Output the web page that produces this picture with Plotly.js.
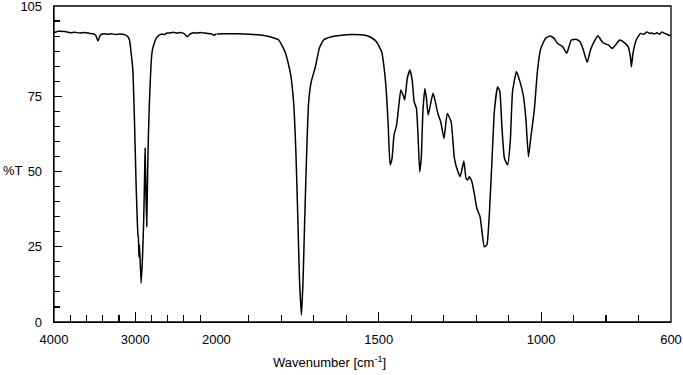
<!DOCTYPE html>
<html>
<head>
<meta charset="utf-8">
<script src="https://cdn.plot.ly/plotly-3.0.1.min.js"></script>
<style>html,body{margin:0;padding:0;background:#fff;}#chart{width:683px;height:375px;}</style>
</head>
<body>
<div id="chart"></div>
<script>
// Wavenumber (cm-1) and transmittance (%T)
const wavenumber = [
  4000,3940,3865,3800,3743,3680,3621,3560,3523,3486,3458,3431,3388,3340,3290,3240,3192,3150,3119,3088,3070,3029,3009,2988,2966,
  2960,2954,2947,2927,2911,2895,2884,2878,2868,2858,2846,2837,2825,2804,2788,2764,2739,2703,
  2670,2641,2610,2580,2530,2482,2440,2397,2356,2323,2280,2237,2195,2152,2110,2066,2029,2000,
  1976,1946,1915,1884,1854,1832,1808,1787,1772,1762,1755,1749,1744,1738,1733,1728,1722,1716,
  1708,1695,1683,1670,1646,1615,1584,1542,1526,1507,1491,1481,1476,1471,1465,1459,1453,1445,
  1438,1432,1425,1420,1412,1404,1397,1391,1384,1379,1374,1369,1364,1358,1353,1348,1343,1333,
  1328,1318,1309,1299,1289,1277,1267,1256,1249,1243,1238,1231,1226,1221,1213,1205,1198,1188,
  1182,1175,1167,1159,1151,1144,1134,1127,1121,1113,1103,1095,1088,1076,1065,1055,1047,1039,
  1032,1021,1011,1001,986,972,960,950,934,921,914,907,891,880,870,858,848,837,825,812,802,792,
  781,771,758,741,732,725,722,717,707,694,684,674,666,659,651,643,635,628,620,613,607,601
];
const transmittance = [
  96.2,96.6,96.5,96.1,96.3,96.0,96.2,95.9,95.8,95.3,93.4,95.3,95.8,95.6,95.8,95.5,95.7,95.6,95.3,94.7,93.7,83.7,67.1,45.0,28.9,
  27.9,21.6,25.6,12.9,20.6,33.9,48.8,57.7,43.9,31.7,50.5,62.1,72.8,86.0,90.4,92.7,94.4,95.3,
  95.7,95.5,96.0,96.0,96.3,96.0,96.2,95.8,94.8,95.7,96.1,96.0,96.2,96.0,95.9,95.8,95.3,95.7,
  95.8,95.8,95.7,95.5,95.2,94.7,93.7,89.4,82.7,72.8,56.1,33.9,14.0,2.3,14.0,33.9,56.1,72.8,
  79.8,84.8,91.0,93.7,94.8,95.3,95.5,95.3,94.7,93.1,89.8,82.1,75.4,65.7,52.2,54.4,62.1,65.4,
  72.1,77.1,75.4,73.8,81.0,83.7,80.4,73.2,71.0,62.1,49.9,54.5,69.9,77.6,74.3,68.8,71.0,76.0,
  74.3,69.3,66.5,61.0,69.3,66.5,54.4,49.9,48.3,51.1,53.5,47.7,47.2,48.3,46.6,42.2,37.8,35.0,
  30.0,25.0,25.6,36.6,54.4,69.9,78.2,76.5,65.4,54.4,52.2,59.9,76.5,83.2,79.8,75.4,67.7,54.9,
  61.0,70.4,83.7,90.9,94.3,95.0,94.3,92.6,91.5,89.3,91.5,93.7,93.9,93.1,90.4,86.3,90.4,93.1,95.1,93.1,92.4,92.0,
  90.9,92.0,93.7,92.6,91.5,88.1,84.8,89.3,93.7,95.9,95.6,96.4,95.9,96.0,95.7,96.1,95.6,96.4,95.9,95.7,95.2,95.3
];
const xTickHigh = [4000, 3000];
const xTickLow = [2000, 1500, 1000, 600];
const yTicks = [0, 25, 50, 75, 105];

// split spectrum at 2000 cm-1 (the axis scale changes there)
const hiX = [], hiY = [], loX = [], loY = [];
wavenumber.forEach((w, i) => {
  if (w >= 2000) { hiX.push(w); hiY.push(transmittance[i]); }
  if (w <= 2000) { loX.push(w); loY.push(transmittance[i]); }
});

const lineStyle = {color: '#000', width: 1.5, shape: 'spline', smoothing: 0.4};
const traces = [
  {x: hiX, y: hiY, xaxis: 'x', yaxis: 'y', mode: 'lines', line: lineStyle, hoverinfo: 'skip'},
  {x: loX, y: loY, xaxis: 'x2', yaxis: 'y', mode: 'lines', line: lineStyle, hoverinfo: 'skip'}
];

const split = 500 / 1900;
const font = {family: 'Liberation Sans, Arial, sans-serif', size: 13, color: '#000'};
const axisCommon = {
  showgrid: false, zeroline: false, showline: true, linecolor: '#000', linewidth: 1.3,
  ticks: 'inside', ticklen: 10, tickwidth: 1.2, tickcolor: '#000', tickfont: font,
  ticklabelstandoff: 5, ticklabeloverflow: 'allow'
};
const minorHigh = [], minorLow = [], minorY = [];
for (let v = 3800; v > 2000; v -= 200) minorHigh.push(v);
for (let v = 1900; v > 600; v -= 100) minorLow.push(v);
for (let v = 5; v < 105; v += 5) minorY.push(v);

const layout = {
  width: 683, height: 375,
  margin: {l: 54, r: 12, t: 6, b: 53},
  paper_bgcolor: '#fff', plot_bgcolor: '#fff',
  showlegend: false,
  font: font,
  xaxis: Object.assign({}, axisCommon, {
    domain: [0, split], range: [4000, 2000], anchor: 'y',
    tickmode: 'array', tickvals: xTickHigh, ticktext: xTickHigh.map(String),
    minor: {tickmode: 'array', tickvals: minorHigh, ticks: 'inside', ticklen: 7, tickwidth: 1.2, tickcolor: '#000'}
  }),
  xaxis2: Object.assign({}, axisCommon, {
    domain: [split, 1], range: [2000, 600], anchor: 'y',
    tickmode: 'array', tickvals: xTickLow, ticktext: xTickLow.map(String),
    minor: {tickmode: 'array', tickvals: minorLow, ticks: 'inside', ticklen: 7, tickwidth: 1.2, tickcolor: '#000'}
  }),
  yaxis: Object.assign({}, axisCommon, {
    range: [0, 105], anchor: 'x', ticklen: 8, ticklabelstandoff: 8,
    tickmode: 'array', tickvals: yTicks, ticktext: yTicks.map(String),
    minor: {tickmode: 'array', tickvals: minorY, ticks: 'inside', ticklen: 6, tickwidth: 1.2, tickcolor: '#000'}
  }),
  shapes: [{type: 'rect', xref: 'paper', yref: 'paper', x0: 0, x1: 1, y0: 0, y1: 1,
            line: {color: '#000', width: 1.3}, fillcolor: 'rgba(0,0,0,0)'}],
  annotations: [
    {text: '%T', xref: 'paper', yref: 'paper', x: -0.066, y: 0.481, xanchor: 'center', yanchor: 'middle',
     showarrow: false, font: font},
    {text: 'Wavenumber [cm<sup>-1</sup>]', xref: 'paper', yref: 'paper', x: 0.447, y: -0.127,
     xanchor: 'center', yanchor: 'middle', showarrow: false, font: font}
  ]
};

Plotly.newPlot('chart', traces, layout, {displayModeBar: false, staticPlot: true});
</script>
</body>
</html>
